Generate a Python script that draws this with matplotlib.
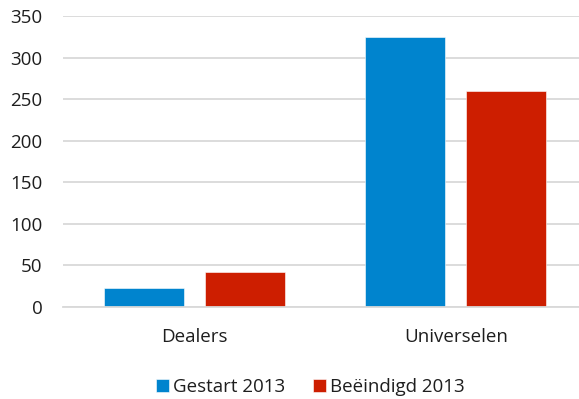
import matplotlib
matplotlib.use('Agg')
import matplotlib.pyplot as plt
import numpy as np

# Started / ended counts per category, 2013
categories = ['Dealers', 'Universelen']
gestart = [22, 325]
beeindigd = [42, 260]
series_labels = ['Gestart 2013', 'Beëindigd 2013']
y_ticks = [0, 50, 100, 150, 200, 250, 300, 350]

BLUE = '#0084CE'
RED = '#CD1E00'
GRID = '#D9D9D9'
TEXT = '#1E1E1E'

plt.rcParams['font.family'] = ['Open Sans', 'DejaVu Sans']

fig = plt.figure(figsize=(5.79, 3.99), dpi=100)
# plot area runs a little past the right edge of the figure
ax = fig.add_axes([0.1093, 0.2313, 0.904, 0.7286])

x = np.arange(len(categories))
width = 0.306
offset = 0.193

ax.bar(x - offset, gestart, width=width, color=BLUE, label=series_labels[0],
       edgecolor='white', linewidth=0.4, zorder=2)
ax.bar(x + offset, beeindigd, width=width, color=RED, label=series_labels[1],
       edgecolor='white', linewidth=0.4, zorder=2)

ax.set_xlim(-0.5, len(categories) - 0.5)
ax.set_ylim(0, 350)
ax.set_yticks(y_ticks)
ax.set_xticks(x)
ax.set_xticklabels(categories)

ax.yaxis.grid(True, color=GRID, linewidth=1.3, zorder=0)
ax.set_axisbelow(True)
for side in ['top', 'right', 'left']:
    ax.spines[side].set_visible(False)
ax.spines['bottom'].set_color(GRID)
ax.spines['bottom'].set_linewidth(1.3)

ax.tick_params(axis='y', length=0, pad=15, labelsize=13.5, labelcolor=TEXT)
ax.tick_params(axis='x', length=0, pad=15, labelsize=13.5, labelcolor=TEXT)

fig.legend(loc='center', bbox_to_anchor=(310 / 579, 1 - 387 / 399), ncol=2,
           frameon=False, fontsize=13.5, handlelength=0.7, handleheight=0.7,
           handletextpad=0.2, columnspacing=1.5, labelcolor=TEXT)

fig.savefig('out.png', dpi=100)
